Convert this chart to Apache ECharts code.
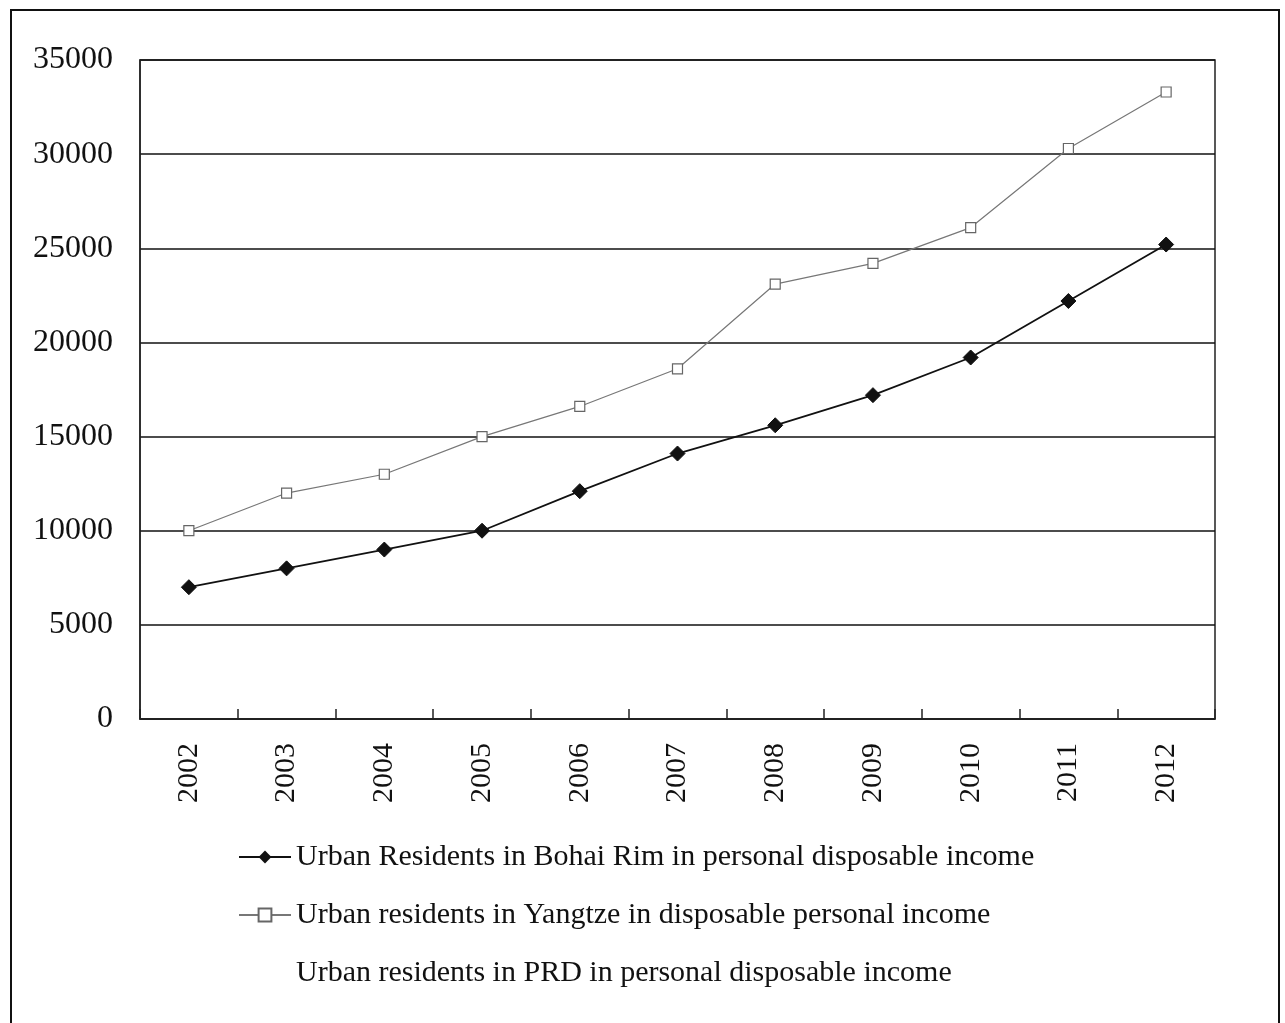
<!DOCTYPE html>
<html>
<head>
<meta charset="utf-8">
<script src="https://cdn.jsdelivr.net/npm/echarts@6/dist/echarts.min.js"></script>
<style>
  html, body { margin: 0; padding: 0; background: #fff; }
  #chart { width: 1285px; height: 1023px; }
</style>
</head>
<body>
<div id="chart"></div>
<script>
// Per-capita disposable income of urban residents, 2002-2012 (yuan)
const years = ['2002', '2003', '2004', '2005', '2006', '2007', '2008', '2009', '2010', '2011', '2012'];
const bohaiValues = [7000, 8000, 9000, 10000, 12100, 14100, 15600, 17200, 19200, 22200, 25200];
const yangtzeValues = [10000, 12000, 13000, 15000, 16600, 18600, 23100, 24200, 26100, 30300, 33300];
const prdValues = [];
const yTicks = { min: 0, max: 35000, interval: 5000 };

const seriesNames = [
  'Urban Residents in Bohai Rim in personal disposable income',
  'Urban residents in Yangtze in disposable personal income',
  'Urban residents in PRD in personal disposable income'
];

const serif = "'Liberation Serif', 'DejaVu Serif', serif";
const chart = echarts.init(document.getElementById('chart'));

chart.setOption({
  animation: false,
  backgroundColor: '#fff',
  textStyle: { fontFamily: serif },
  grid: {
    left: 140, right: 70, top: 60, bottom: 304,
    show: true, borderColor: '#222', borderWidth: 1.5
  },
  graphic: [{
    type: 'rect',
    shape: { x: 11, y: 10, width: 1268, height: 1030 },
    style: { fill: 'none', stroke: '#111', lineWidth: 2 }
  }],
  legend: {
    orient: 'vertical',
    left: 233, top: 837,
    itemWidth: 52, itemHeight: 16, itemGap: 28,
    textStyle: { fontFamily: serif, fontSize: 30, color: '#111' },
    data: seriesNames
  },
  xAxis: {
    type: 'category',
    data: years,
    boundaryGap: true,
    axisLine: { lineStyle: { color: '#222', width: 1.5 } },
    axisTick: { show: true, inside: true, length: 10, alignWithLabel: false, lineStyle: { color: '#222', width: 1.5 } },
    axisLabel: { rotate: 90, margin: 24, fontFamily: serif, fontSize: 30, color: '#111' },
    splitLine: { show: false }
  },
  yAxis: {
    type: 'value',
    min: yTicks.min, max: yTicks.max, interval: yTicks.interval,
    axisLine: { show: true, lineStyle: { color: '#222', width: 1.5 } },
    axisTick: { show: false },
    axisLabel: { margin: 27, fontFamily: serif, fontSize: 32, color: '#111', formatter: v => String(v) },
    splitLine: { show: true, lineStyle: { color: '#111', width: 1.5 } }
  },
  series: [
    {
      name: seriesNames[0],
      type: 'line',
      data: bohaiValues,
      symbol: 'diamond',
      symbolSize: 15,
      lineStyle: { color: '#111', width: 1.8 },
      itemStyle: { color: '#111', borderColor: '#111' }
    },
    {
      name: seriesNames[1],
      type: 'line',
      data: yangtzeValues,
      symbol: 'rect',
      symbolSize: 10,
      lineStyle: { color: '#777', width: 1.2 },
      itemStyle: { color: '#fff', borderColor: '#666', borderWidth: 1.2 }
    },
    {
      name: seriesNames[2],
      type: 'line',
      data: prdValues,
      symbol: 'none',
      lineStyle: { color: 'rgba(0,0,0,0)', width: 0 },
      itemStyle: { color: 'rgba(0,0,0,0)' }
    }
  ]
});
</script>
</body>
</html>
